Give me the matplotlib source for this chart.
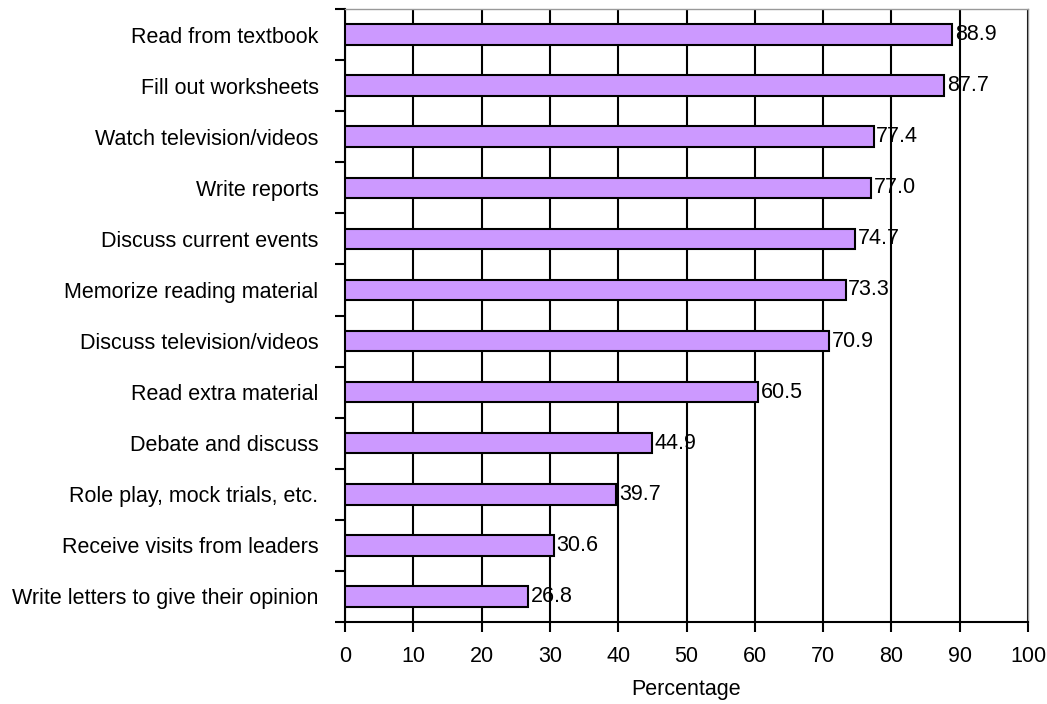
import numpy as np
from matplotlib import pyplot as plt
from matplotlib.ticker import MultipleLocator, FixedLocator, NullFormatter

activities = [
    "Read from textbook",
    "Fill out worksheets",
    "Watch television/videos",
    "Write reports",
    "Discuss current events",
    "Memorize reading material",
    "Discuss television/videos",
    "Read extra material",
    "Debate and discuss",
    "Role play, mock trials, etc.",
    "Receive visits from leaders",
    "Write letters to give their opinion",
]
percentages = [88.9, 87.7, 77.4, 77.0, 74.7, 73.3, 70.9, 60.5, 44.9, 39.7, 30.6, 26.8]

plt.rcParams['font.family'] = ['Liberation Sans', 'DejaVu Sans']
plt.rcParams['font.size'] = 15.5

fig = plt.figure(figsize=(10.47, 7.04), dpi=100)
ax = fig.add_axes([345/1047, 1 - 622/704, (1028-345)/1047, (622-9)/704])

y = np.arange(len(activities))
ax.barh(y, percentages, height=0.4, color="#CC99FF", edgecolor="black",
        linewidth=1.5, zorder=3)

for yi, v in zip(y, percentages):
    ax.text(v + 0.4, yi, "%.1f" % v, va="center", ha="left", zorder=4)

ax.set_xlim(0, 100)
ax.set_ylim(len(activities) - 0.5, -0.5)
ax.xaxis.set_major_locator(MultipleLocator(10))
ax.grid(axis="x", color="black", linewidth=1.5, zorder=0)

ax.set_yticks(y)
ax.set_yticklabels(activities)
ax.yaxis.set_minor_locator(FixedLocator(np.arange(-0.5, len(activities), 1)))
ax.yaxis.set_minor_formatter(NullFormatter())
ax.tick_params(axis="y", which="major", length=0, pad=19)
ax.tick_params(axis="y", which="minor", length=7, width=1.5, direction="out")
ax.tick_params(axis="x", length=7, width=1.5, direction="out", pad=10)

for s in ["left", "bottom"]:
    ax.spines[s].set_linewidth(1.5)
    ax.spines[s].set_color("black")
for s in ["top", "right"]:
    ax.spines[s].set_color("#999999")
    ax.spines[s].set_linewidth(1.0)

ax.set_xlabel("Percentage", labelpad=9)

plt.savefig("out.png", dpi=100)
plt.close()
